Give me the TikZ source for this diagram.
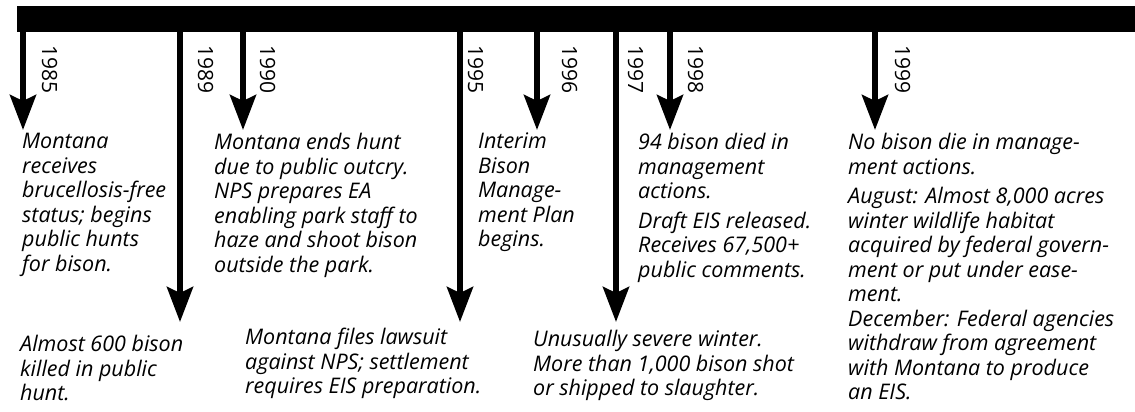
\documentclass[tikz,border=0pt]{standalone}
\usepackage{fontspec}
\setmainfont{Open Sans}
\usetikzlibrary{arrows.meta, positioning}

\begin{document}
\begin{tikzpicture}[x=1pt, y=-1pt,
    event/.style={anchor=north west, inner sep=0pt, align=left, font=\fontsize{21.5}{24.5}\selectfont\itshape},
    year/.style={anchor=base west, inner sep=0pt, rotate=-90, font=\fontsize{21}{21}\selectfont},
    timearrow/.style={-{Stealth[length=35pt, width=26pt, inset=6pt]}, line width=6pt}]
    \useasboundingbox (0,0) rectangle (1135,412);

    % Define nodes
    \node[fill=black, minimum width=1118pt, minimum height=26pt, inner sep=0pt, anchor=north west] (bar) at (17,6) {};

    \coordinate (tip85) at (23,130);
    \node[year] (y85) at (42,45) {1985};
    \node[event] (t85) at (22,133) {Montana\\ receives\\ brucellosis-free\\ status; begins\\ public hunts\\ for bison.};

    \coordinate (tip89) at (180,322);
    \node[year] (y89) at (198,45) {1989};
    \node[event] (t89) at (20,335) {Almost 600 bison\\ killed in public\\ hunt.};

    \coordinate (tip90) at (243,130);
    \node[year] (y90) at (260,45) {1990};
    \node[event] (t90) at (214,133) {Montana ends hunt\\ due to public outcry.\\ NPS prepares EA\\ enabling park staff to\\ haze and shoot bison\\ outside the park.};

    \coordinate (tip95) at (460,322);
    \node[year] (y95) at (468,45) {1995};
    \node[event] (t95) at (245,328) {Montana files lawsuit\\ against NPS; settlement\\ requires EIS preparation.};

    \coordinate (tip96) at (537,130);
    \node[year] (y96) at (562,45) {1996};
    \node[event] (t96) at (478,133) {Interim\\ Bison\\ Manage-\\ ment Plan\\ begins.};

    \coordinate (tip97) at (616,322);
    \node[year] (y97) at (628,45) {1997};
    \node[event] (t97) at (533,330) {Unusually severe winter.\\ More than 1,000 bison shot\\ or shipped to slaughter.};

    \coordinate (tip98) at (670,130);
    \node[year] (y98) at (688,45) {1998};
    \node[event] (t98) at (638,133) {94 bison died in\\ management\\ actions.\\[5pt] Draft EIS released.\\ Receives 67,500+\\ public comments.};

    \coordinate (tip99) at (875,130);
    \node[year] (y99) at (895,45) {1999};
    \node[event] (t99) at (848,133) {No bison die in manage-\\ ment actions.\\[5pt] August: Almost 8,000 acres\\ winter wildlife habitat\\ acquired by federal govern-\\ ment or put under ease-\\ ment.\\ December: Federal agencies\\ withdraw from agreement\\ with Montana to produce\\ an EIS.};

    % Connect bar with arrows
    \draw[timearrow] (tip85 |- bar.center) -- (tip85);
    \draw[timearrow] (tip89 |- bar.center) -- (tip89);
    \draw[timearrow] (tip90 |- bar.center) -- (tip90);
    \draw[timearrow] (tip95 |- bar.center) -- (tip95);
    \draw[timearrow] (tip96 |- bar.center) -- (tip96);
    \draw[timearrow] (tip97 |- bar.center) -- (tip97);
    \draw[timearrow] (tip98 |- bar.center) -- (tip98);
    \draw[timearrow] (tip99 |- bar.center) -- (tip99);
\end{tikzpicture}
\end{document}
